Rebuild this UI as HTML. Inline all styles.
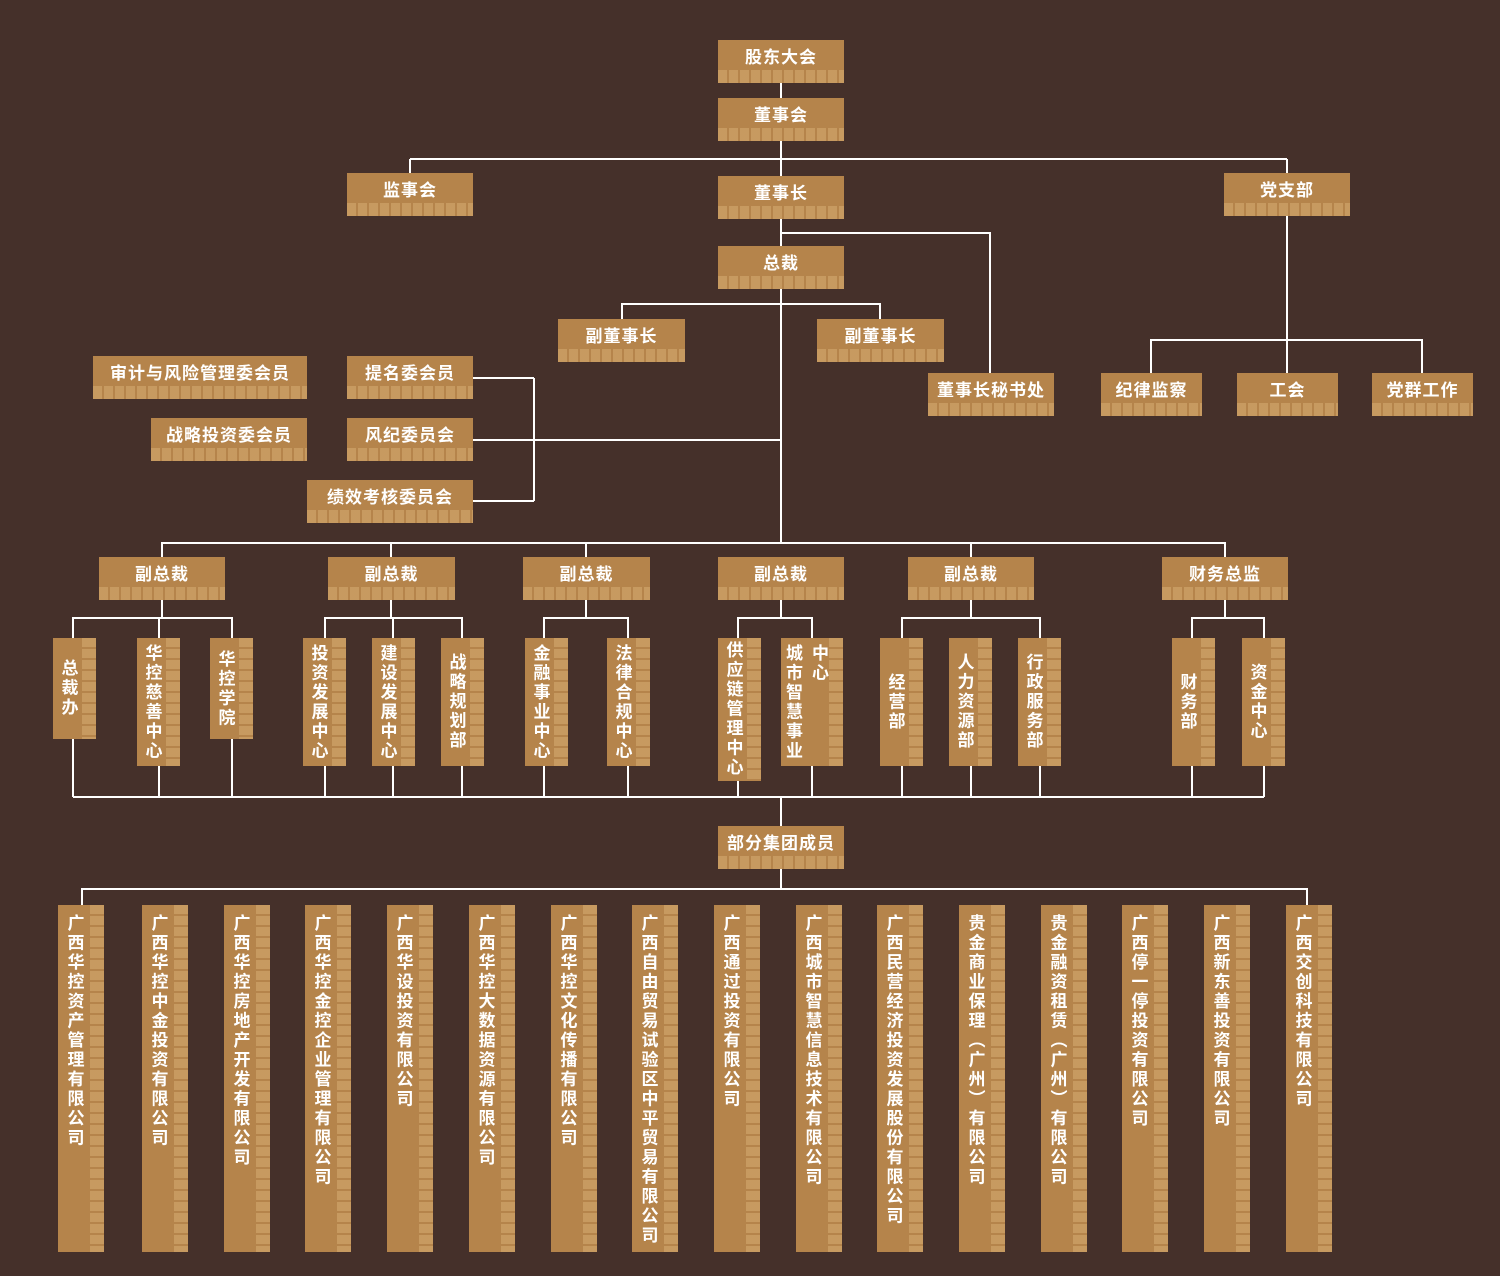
<!DOCTYPE html>
<html><head><meta charset="utf-8"><style>
html,body{margin:0;padding:0}
body{width:1500px;height:1276px;background:#45302a;position:relative;overflow:hidden;font-family:"Liberation Sans","Noto Sans CJK SC",sans-serif;font-weight:bold;color:#fff}
svg{position:absolute;left:0;top:0}
.h{position:absolute;height:43px;background:#b5844b;text-align:center;line-height:35px;font-size:17px;letter-spacing:1px}
.h::after{content:'';position:absolute;left:0;right:0;bottom:0;height:13px;background:repeating-linear-gradient(90deg,#c99c63 0 9px,#b5844b 9px 11px);opacity:.9}
.v{position:absolute;width:43px;background:#b5844b}
.v::after{content:'';position:absolute;top:0;bottom:0;right:0;width:14px;background:repeating-linear-gradient(180deg,#c99c63 0 9px,#b5844b 9px 11px);opacity:.9}
.v .t{position:absolute;left:0;right:14px;top:0;bottom:0;display:flex;align-items:center;justify-content:center;font-size:17px}
.v .t span{writing-mode:vertical-rl;letter-spacing:2.5px;line-height:22px}
.b{width:46px;top:905px;height:347px}
.b .t{align-items:flex-start;padding-top:9px;right:15px}
.b .t span{letter-spacing:2.5px}
</style></head><body>
<svg width="1500" height="1276" fill="none" stroke="#fff" stroke-width="2">
<path d="M781 83V543M410 159H1287M410 159V173M1287 159V173"/>
<path d="M781 233H990V373M622 319V304H880V319"/>
<path d="M1287 216V373M1151 373V340H1422V373"/>
<path d="M473 378H534M473 440H781M473 501H534M534 378V501"/>
<path d="M162 557V543H1225V557M391 543V557M586 543V557M971 543V557"/>
<path d="M162 600V618M73 638V618H232V638M159 618V638"/>
<path d="M391 600V618M325 638V618H462V638M393 618V638"/>
<path d="M586 600V618M544 638V618H628V638"/>
<path d="M781 600V618M738 638V618H812V638"/>
<path d="M971 600V618M902 638V618H1040V638"/>
<path d="M1225 600V618M1192 638V618H1264V638"/>
<path d="M73 739V797M159 766V797M232 739V797M325 766V797M393 766V797M462 766V797M544 766V797M628 766V797M738 781V797M812 766V797M902 766V797M971 766V797M1040 766V797M1192 766V797M1264 766V797M73 797H1264M781 797V826"/>
<path d="M781 869V889M82 905V889H1307V905"/>
</svg>

<div class="h" style="left:718px;top:40px;width:126px">股东大会</div>
<div class="h" style="left:718px;top:98px;width:126px">董事会</div>
<div class="h" style="left:347px;top:173px;width:126px">监事会</div>
<div class="h" style="left:718px;top:176px;width:126px">董事长</div>
<div class="h" style="left:1224px;top:173px;width:126px">党支部</div>
<div class="h" style="left:718px;top:246px;width:126px">总裁</div>
<div class="h" style="left:558px;top:319px;width:127px">副董事长</div>
<div class="h" style="left:817px;top:319px;width:127px">副董事长</div>
<div class="h" style="left:928px;top:373px;width:126px">董事长秘书处</div>
<div class="h" style="left:1101px;top:373px;width:101px">纪律监察</div>
<div class="h" style="left:1237px;top:373px;width:101px">工会</div>
<div class="h" style="left:1372px;top:373px;width:101px">党群工作</div>
<div class="h" style="left:93px;top:356px;width:214px">审计与风险管理委会员</div>
<div class="h" style="left:347px;top:356px;width:126px">提名委会员</div>
<div class="h" style="left:151px;top:418px;width:156px">战略投资委会员</div>
<div class="h" style="left:347px;top:418px;width:126px">风纪委员会</div>
<div class="h" style="left:307px;top:480px;width:166px">绩效考核委员会</div>

<div class="h" style="left:99px;top:557px;width:126px">副总裁</div>
<div class="h" style="left:328px;top:557px;width:127px">副总裁</div>
<div class="h" style="left:523px;top:557px;width:127px">副总裁</div>
<div class="h" style="left:718px;top:557px;width:126px">副总裁</div>
<div class="h" style="left:908px;top:557px;width:126px">副总裁</div>
<div class="h" style="left:1162px;top:557px;width:126px">财务总监</div>

<div class="v" style="left:53px;top:638px;height:101px"><div class="t"><span>总裁办</span></div></div>
<div class="v" style="left:137px;top:638px;height:128px"><div class="t"><span>华控慈善中心</span></div></div>
<div class="v" style="left:210px;top:638px;height:101px"><div class="t"><span>华控学院</span></div></div>
<div class="v" style="left:303px;top:638px;height:128px"><div class="t"><span>投资发展中心</span></div></div>
<div class="v" style="left:372px;top:638px;height:128px"><div class="t"><span>建设发展中心</span></div></div>
<div class="v" style="left:441px;top:638px;height:128px"><div class="t"><span>战略规划部</span></div></div>
<div class="v" style="left:525px;top:638px;height:128px"><div class="t"><span>金融事业中心</span></div></div>
<div class="v" style="left:607px;top:638px;height:128px"><div class="t"><span>法律合规中心</span></div></div>
<div class="v" style="left:718px;top:638px;height:143px"><div class="t"><span>供应链管理中心</span></div></div>
<div class="v" style="left:781px;top:638px;height:128px;width:62px"><div class="t" style="align-items:flex-start;padding-top:6px"><span style="margin-right:4px">城市智慧事业</span><span>中心</span></div></div>
<div class="v" style="left:880px;top:638px;height:128px"><div class="t"><span>经营部</span></div></div>
<div class="v" style="left:949px;top:638px;height:128px"><div class="t"><span>人力资源部</span></div></div>
<div class="v" style="left:1018px;top:638px;height:128px"><div class="t"><span>行政服务部</span></div></div>
<div class="v" style="left:1172px;top:638px;height:128px"><div class="t"><span>财务部</span></div></div>
<div class="v" style="left:1242px;top:638px;height:128px"><div class="t"><span>资金中心</span></div></div>

<div class="h" style="left:718px;top:826px;width:126px">部分集团成员</div>

<div class="v b" style="left:58px"><div class="t"><span>广西华控资产管理有限公司</span></div></div>
<div class="v b" style="left:142px"><div class="t"><span>广西华控中金投资有限公司</span></div></div>
<div class="v b" style="left:224px"><div class="t"><span>广西华控房地产开发有限公司</span></div></div>
<div class="v b" style="left:305px"><div class="t"><span>广西华控金控企业管理有限公司</span></div></div>
<div class="v b" style="left:387px"><div class="t"><span>广西华设投资有限公司</span></div></div>
<div class="v b" style="left:469px"><div class="t"><span>广西华控大数据资源有限公司</span></div></div>
<div class="v b" style="left:551px"><div class="t"><span>广西华控文化传播有限公司</span></div></div>
<div class="v b" style="left:632px"><div class="t"><span>广西自由贸易试验区中平贸易有限公司</span></div></div>
<div class="v b" style="left:714px"><div class="t"><span>广西通过投资有限公司</span></div></div>
<div class="v b" style="left:796px"><div class="t"><span>广西城市智慧信息技术有限公司</span></div></div>
<div class="v b" style="left:877px"><div class="t"><span>广西民营经济投资发展股份有限公司</span></div></div>
<div class="v b" style="left:959px"><div class="t"><span>贵金商业保理（广州）有限公司</span></div></div>
<div class="v b" style="left:1041px"><div class="t"><span>贵金融资租赁（广州）有限公司</span></div></div>
<div class="v b" style="left:1122px"><div class="t"><span>广西停一停投资有限公司</span></div></div>
<div class="v b" style="left:1204px"><div class="t"><span>广西新东善投资有限公司</span></div></div>
<div class="v b" style="left:1286px"><div class="t"><span>广西交创科技有限公司</span></div></div>
</body></html>
